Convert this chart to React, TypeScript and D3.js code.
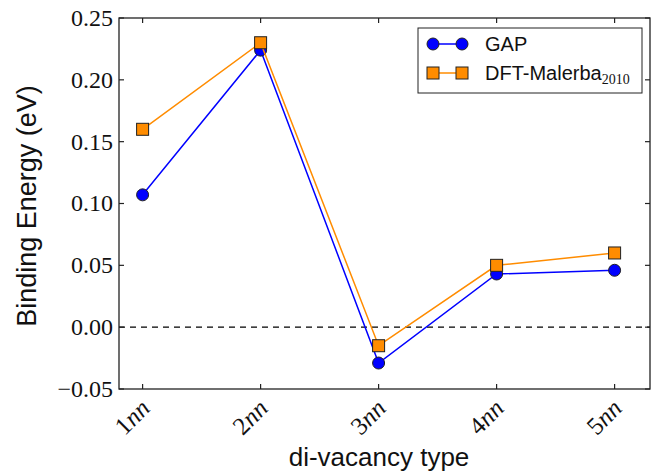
import React from "react";
import * as d3 from "d3";

const categories = ["1", "2", "3", "4", "5"];
const gapValues = [0.107, 0.224, -0.029, 0.043, 0.046];
const dftValues = [0.16, 0.23, -0.015, 0.05, 0.06];
const yTicks = [-0.05, 0.0, 0.05, 0.1, 0.15, 0.2, 0.25];

const W = 661;
const H = 476;
const M = { left: 119, right: 650, top: 18, bottom: 389 };

export default function App() {
  const x = d3.scaleLinear().domain([0.8, 5.3]).range([M.left, M.right]);
  const y = d3.scaleLinear().domain([-0.05, 0.25]).range([M.bottom, M.top]);
  const xs = categories.map((_, i) => i + 1);
  const line = d3
    .line<number>()
    .x((_, i) => x(xs[i]))
    .y((d) => y(d));
  const fmt = (v: number) => {
    const s = Math.abs(v).toFixed(2);
    return v < -1e-9 ? "\u2212" + s : s;
  };
  const serif = "'Liberation Serif', 'Times New Roman', 'DejaVu Serif', serif";
  const sans = "'Liberation Sans', Arial, sans-serif";
  const blue = "#0000ff";
  const orange = "#ff8c00";
  const edge = "#222";
  const tl = 5;
  const legX = 418;
  const legY = 28;
  return (
    <svg width={W} height={H} style={{ display: "block", position: "absolute", left: 0, top: 0 }}>
      <rect x={0} y={0} width={W} height={H} fill="white" />
      <line x1={M.left} x2={M.right} y1={y(0)} y2={y(0)} stroke="black" strokeWidth={1.2} strokeDasharray="6,5" />
      <path d={line(gapValues) || ""} fill="none" stroke={blue} strokeWidth={1.5} />
      {gapValues.map((v, i) => (
        <circle key={"g" + i} cx={x(xs[i])} cy={y(v)} r={6} fill={blue} stroke={edge} strokeWidth={1} />
      ))}
      <path d={line(dftValues) || ""} fill="none" stroke={orange} strokeWidth={1.5} />
      {dftValues.map((v, i) => (
        <rect key={"d" + i} x={x(xs[i]) - 6} y={y(v) - 6} width={12} height={12} fill={orange} stroke={edge} strokeWidth={1} />
      ))}
      <rect x={M.left} y={M.top} width={M.right - M.left} height={M.bottom - M.top} fill="none" stroke="#222" strokeWidth={1.3} />
      {yTicks.map((t) => (
        <g key={"yt" + t}>
          <line x1={M.left} x2={M.left + tl} y1={y(t)} y2={y(t)} stroke="#222" strokeWidth={1.2} />
          <line x1={M.right} x2={M.right - tl} y1={y(t)} y2={y(t)} stroke="#222" strokeWidth={1.2} />
          <text x={M.left - 6} y={y(t)} dy="0.33em" textAnchor="end" fontFamily={serif} fontSize={24} fill="#111">
            {fmt(t)}
          </text>
        </g>
      ))}
      {xs.map((xv, i) => (
        <g key={"xt" + i}>
          <line x1={x(xv)} x2={x(xv)} y1={M.bottom} y2={M.bottom - tl} stroke="#222" strokeWidth={1.2} />
          <line x1={x(xv)} x2={x(xv)} y1={M.top} y2={M.top + tl} stroke="#222" strokeWidth={1.2} />
          <text
            transform={`translate(${x(xv) - 4},${M.bottom + 8}) rotate(-45)`}
            textAnchor="end"
            dy="0.72em"
            fontFamily={serif}
            fontSize={25}
            fill="#111"
          >
            {categories[i]}
            <tspan fontStyle="italic">nn</tspan>
          </text>
        </g>
      ))}
      <text x={379} y={466} textAnchor="middle" fontFamily={sans} fontSize={26} fill="#111">
        di-vacancy type
      </text>
      <text transform={`translate(36,206) rotate(-90)`} textAnchor="middle" fontFamily={sans} fontSize={27} fill="#111">
        Binding Energy (eV)
      </text>
      <rect x={legX} y={legY} width={224} height={65} fill="white" stroke="#222" strokeWidth={1} />
      <line x1={433} x2={462} y1={44} y2={44} stroke={blue} strokeWidth={1.5} />
      <circle cx={433} cy={44} r={6} fill={blue} stroke={edge} strokeWidth={1} />
      <circle cx={462} cy={44} r={6} fill={blue} stroke={edge} strokeWidth={1} />
      <text x={485} y={44} dy="0.36em" fontFamily={sans} fontSize={20} fill="#111">
        GAP
      </text>
      <line x1={433} x2={462} y1={73} y2={73} stroke={orange} strokeWidth={1.5} />
      <rect x={427} y={67} width={12} height={12} fill={orange} stroke={edge} strokeWidth={1} />
      <rect x={456} y={67} width={12} height={12} fill={orange} stroke={edge} strokeWidth={1} />
      <text x={485} y={73} dy="0.36em" fontFamily={sans} fontSize={20} fill="#111">
        DFT-Malerba
        <tspan fontFamily={serif} fontSize={14} dy="4">2010</tspan>
      </text>
    </svg>
  );
}
